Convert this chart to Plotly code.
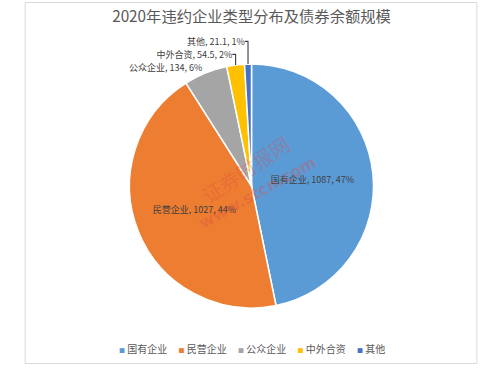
import plotly.graph_objects as go

categories = ["国有企业", "民营企业", "公众企业", "中外合资", "其他"]
values = [1087, 1027, 134, 54.5, 21.1]
colors = ["#5B9BD5", "#ED7D31", "#A5A5A5", "#FFC000", "#4472C4"]
title_text = "2020年违约企业类型分布及债券余额规模"

W, H = 503, 368
font_family = "Noto Sans CJK SC, Noto Sans, sans-serif"

fig = go.Figure()
fig.add_trace(go.Pie(
    labels=categories,
    values=values,
    sort=False,
    direction="clockwise",
    rotation=0,
    marker=dict(colors=colors, line=dict(color="white", width=1.5)),
    texttemplate="%{label}, %{value}, %{percent:.0%}",
    textposition=["inside", "inside", "outside", "outside", "outside"],
    insidetextorientation="horizontal",
    textfont=dict(family=font_family, size=9, color="#404040"),
    outsidetextfont=dict(family=font_family, size=9, color="#404040"),
    insidetextfont=dict(family=font_family, size=9, color="#404040"),
    domain=dict(x=[0.1, 0.9], y=[1 - (186 + 122) / H, 1 - (186 - 122) / H]),
    showlegend=False,
    hoverinfo="label+value+percent",
))

# legend row built from the category / colour lists
parts = []
for c, col in zip(categories, colors):
    parts.append(f"<span style='color:{col};font-size:6px'>■</span>\u00a0{c}")
legend_text = ("\u00a0" * 5).join(parts)

fig.update_layout(
    width=W, height=H,
    margin=dict(l=0, r=0, t=0, b=0),
    paper_bgcolor="white",
    plot_bgcolor="white",
    font=dict(family=font_family, color="#595959"),
    title=dict(text=title_text, x=0.5, xanchor="center", y=1 - 17 / H, yanchor="middle",
               font=dict(family=font_family, size=15.3, color="#595959")),
    annotations=[
        dict(text=legend_text, x=0.5, y=1 - 348 / H, xref="paper", yref="paper",
             xanchor="center", yanchor="middle", showarrow=False,
             font=dict(family=font_family, size=10, color="#595959")),
        dict(text="证券时报网", x=245 / W, y=1 - 170 / H, xref="paper", yref="paper",
             showarrow=False, textangle=-34,
             font=dict(family="Noto Sans CJK SC", size=20, color="rgba(225,70,70,0.3)")),
        dict(text="<b>www.stcn.com</b>", x=258 / W, y=1 - 192 / H, xref="paper", yref="paper",
             showarrow=False, textangle=-29,
             font=dict(family="DejaVu Sans", size=16, color="rgba(225,70,70,0.3)")),
    ],
    shapes=[
        dict(type="rect", xref="paper", yref="paper",
             x0=3.5 / W, x1=498.5 / W, y0=1 - 363.5 / H, y1=1 - 2.5 / H,
             line=dict(color="#D9D9D9", width=1), fillcolor="rgba(0,0,0,0)", layer="below"),
    ],
)

fig.write_html("out.html",
               config={"displayModeBar": False},
               post_script="document.body.style.margin='0';document.body.style.overflow='hidden';")
